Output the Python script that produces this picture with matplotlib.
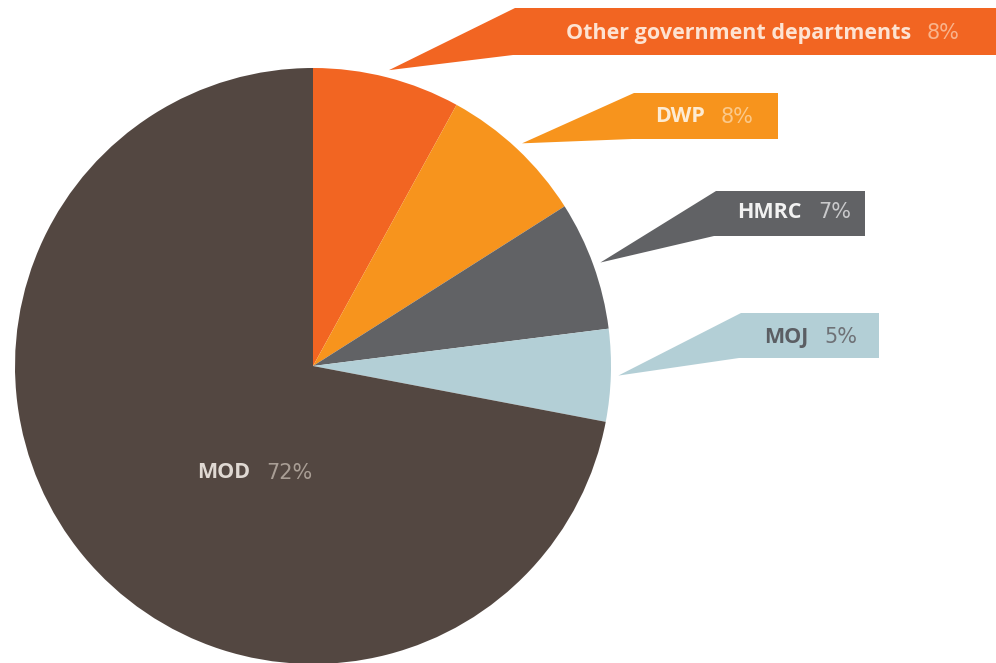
import numpy as np
import matplotlib.pyplot as plt
from matplotlib.patches import Polygon

names = ['Other government departments', 'DWP', 'HMRC', 'MOJ', 'MOD']
shares = [8, 8, 7, 5, 72]
colors = ['#f26522', '#f7941d', '#616265', '#b3cfd6', '#534741']
name_colors = ['#fde3d2', '#fdebd2', '#f2f2f2', '#5b5e63', '#e0d9d3']
pct_colors = ['#f9b48c', '#fbc98a', '#c9c9cb', '#6e7176', '#a99e95']

# callout boxes in pixel coords (left, top, right, bottom), image y downward
boxes = [(515, 8, 996, 55), (634, 93, 778, 139), (716, 191, 865, 236), (741, 313, 879, 358)]
# x where name ends / percent starts, text centre y
splits = [(919, 33), (713, 117), (810, 212), (816, 337), (258, 473)]

W, H = 996, 663
cx, cy, R = 313, 366, 298

fig = plt.figure(figsize=(W / 100, H / 100), dpi=100)
ax = fig.add_axes([0, 0, 1, 1])

wedges, _ = ax.pie(shares, colors=colors, startangle=90, counterclock=False,
                   center=(cx, H - cy), radius=R, frame=True,
                   wedgeprops=dict(linewidth=0))
ax.set_xlim(0, W)
ax.set_ylim(0, H)
ax.set_aspect('equal')
ax.axis('off')

for i, (w, box) in enumerate(zip(wedges, boxes)):
    mid = np.deg2rad((w.theta1 + w.theta2) / 2)
    tip = (cx + 1.025 * R * np.cos(mid), H - cy + 1.025 * R * np.sin(mid))
    l, t, r, b = box
    pts = [tip, (l, H - t), (r, H - t), (r, H - b), (l - 2, H - b)]
    ax.add_patch(Polygon(pts, closed=True, facecolor=colors[i], edgecolor='none', zorder=3))

for i, (name, s) in enumerate(zip(names, shares)):
    sx, sy = splits[i]
    ax.text(sx - 8, H - sy, name, ha='right', va='center', fontsize=15.5,
            fontweight='bold', family='Open Sans', color=name_colors[i], zorder=4)
    ax.text(sx + 8, H - sy, f'{s}%', ha='left', va='center', fontsize=15,
            family='DejaVu Sans', color=pct_colors[i], zorder=4)

fig.savefig('out.png', dpi=100)
